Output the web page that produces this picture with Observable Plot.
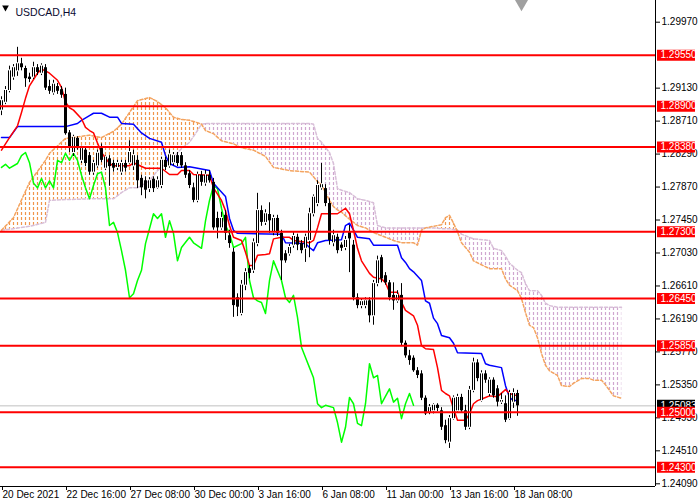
<!DOCTYPE html>
<html>
<head>
<meta charset="utf-8">
<script src="https://cdn.jsdelivr.net/npm/d3@7"></script>
<script src="https://cdn.jsdelivr.net/npm/@observablehq/plot@0.6"></script>
<style>
  body { margin: 0; background: #fff; }
  #chart { width: 700px; height: 500px; }
</style>
</head>
<body>
<div id="chart"></div>
<script>
// USDCAD H4 candles, 20 Dec 2021 -> 18 Jan 2022 (bar index = position)
const open = [1.2885,1.2895,1.2910,1.2927,1.2935,1.2944,1.2938,1.2927,1.2927,1.2939,
  1.2932,1.2939,1.2915,1.2907,1.2915,1.2911,1.2905,1.2856,1.2831,1.2849,
  1.2821,1.2834,1.2827,1.2806,1.2814,1.2836,1.2811,1.2823,1.2817,1.2812,
  1.2806,1.2817,1.2818,1.2814,1.2821,1.2798,1.2795,1.2785,1.2797,1.2786,
  1.2789,1.2821,1.2814,1.2818,1.2827,1.2827,1.2814,1.2804,1.2786,1.2770,
  1.2802,1.2792,1.2802,1.2793,1.2747,1.2735,1.2751,1.2725,1.2704,1.2646,
  1.2626,1.2662,1.2683,1.2681,1.2715,1.2757,1.2742,1.2752,1.2729,1.2747,
  1.2728,1.2702,1.2702,1.2713,1.2723,1.2715,1.2709,1.2719,1.2753,1.2766,
  1.2786,1.2785,1.2766,1.2716,1.2723,1.2713,1.2710,1.2729,1.2713,1.2646,
  1.2636,1.2636,1.2642,1.2623,1.2664,1.2697,1.2674,1.2665,1.2649,1.2642,
  1.2649,1.2588,1.2572,1.2569,1.2553,1.2549,1.2518,1.2500,1.2502,1.2509,
  1.2502,1.2483,1.2462,1.2492,1.2502,1.2519,1.2502,1.2481,1.2528,1.2563,
  1.2515,1.2549,1.2524,1.2541,1.2530,1.2513,1.2511,1.2492,1.2513,1.2524]
const close = [1.2897,1.2910,1.2935,1.2939,1.2944,1.2939,1.2925,1.2924,1.2939,1.2933,
  1.2941,1.2913,1.2909,1.2918,1.2909,1.2904,1.2855,1.2837,1.2850,1.2836,
  1.2836,1.2817,1.2806,1.2817,1.2830,1.2821,1.2825,1.2813,1.2811,1.2817,
  1.2817,1.2811,1.2831,1.2827,1.2795,1.2786,1.2783,1.2795,1.2785,1.2795,
  1.2821,1.2812,1.2828,1.2827,1.2817,1.2814,1.2802,1.2789,1.2770,1.2802,
  1.2793,1.2802,1.2795,1.2735,1.2735,1.2747,1.2728,1.2715,1.2636,1.2634,
  1.2662,1.2678,1.2677,1.2716,1.2757,1.2742,1.2753,1.2744,1.2747,1.2728,
  1.2693,1.2693,1.2710,1.2724,1.2713,1.2706,1.2723,1.2753,1.2774,1.2789,
  1.2790,1.2766,1.2719,1.2725,1.2706,1.2709,1.2719,1.2721,1.2646,1.2636,
  1.2641,1.2642,1.2623,1.2664,1.2693,1.2670,1.2665,1.2646,1.2642,1.2649,
  1.2588,1.2572,1.2566,1.2553,1.2547,1.2518,1.2498,1.2506,1.2509,1.2505,
  1.2481,1.2464,1.2492,1.2518,1.2519,1.2502,1.2481,1.2528,1.2563,1.2543,
  1.2549,1.2541,1.2541,1.2521,1.2513,1.2515,1.2490,1.2524,1.2524,1.25083]
const high = [1.2902,1.2915,1.2941,1.2943,1.2965,1.2951,1.2941,1.2932,1.2946,1.2943,
  1.2944,1.2943,1.2923,1.2923,1.2919,1.2915,1.2913,1.2859,1.2853,1.2851,
  1.2839,1.2837,1.2831,1.2821,1.2834,1.2842,1.2827,1.2827,1.2821,1.2821,
  1.2821,1.2821,1.2846,1.2834,1.2827,1.2802,1.2800,1.2799,1.2800,1.2800,
  1.2825,1.2825,1.2834,1.2831,1.2831,1.2831,1.2818,1.2808,1.2792,1.2806,
  1.2807,1.2808,1.2808,1.2798,1.2755,1.2755,1.2757,1.2732,1.2709,1.2651,
  1.2668,1.2683,1.2687,1.2721,1.2779,1.2763,1.2758,1.2767,1.2751,1.2751,
  1.2732,1.2706,1.2714,1.2729,1.2727,1.2719,1.2727,1.2760,1.2777,1.2795,
  1.2817,1.2790,1.2772,1.2732,1.2727,1.2716,1.2724,1.2738,1.2719,1.2651,
  1.2645,1.2646,1.2646,1.2668,1.2699,1.2700,1.2678,1.2668,1.2665,1.2655,
  1.2664,1.2591,1.2579,1.2572,1.2557,1.2553,1.2521,1.2510,1.2511,1.2511,
  1.2506,1.2490,1.2496,1.2521,1.2523,1.2523,1.2509,1.2533,1.2569,1.2567,
  1.2553,1.2553,1.2544,1.2544,1.2534,1.2524,1.2521,1.2528,1.2530,1.2528]
const low = [1.2878,1.2892,1.2907,1.2923,1.2928,1.2935,1.2914,1.2920,1.2924,1.2929,
  1.2929,1.2910,1.2905,1.2904,1.2905,1.2900,1.2853,1.2831,1.2826,1.2834,
  1.2817,1.2813,1.2802,1.2802,1.2811,1.2818,1.2808,1.2788,1.2806,1.2808,
  1.2802,1.2806,1.2816,1.2808,1.2785,1.2776,1.2772,1.2780,1.2780,1.2784,
  1.2785,1.2808,1.2811,1.2814,1.2813,1.2811,1.2798,1.2785,1.2767,1.2767,
  1.2788,1.2788,1.2792,1.2732,1.2721,1.2732,1.2719,1.2709,1.2621,1.2622,
  1.2623,1.2655,1.2670,1.2677,1.2711,1.2737,1.2738,1.2728,1.2725,1.2724,
  1.2668,1.2690,1.2699,1.2709,1.2706,1.2702,1.2691,1.2697,1.2749,1.2762,
  1.2783,1.2762,1.2713,1.2711,1.2702,1.2705,1.2706,1.2678,1.2642,1.2632,
  1.2632,1.2632,1.2614,1.2611,1.2660,1.2665,1.2662,1.2642,1.2630,1.2639,
  1.2585,1.2569,1.2560,1.2551,1.2543,1.2515,1.2496,1.2497,1.2498,1.2501,
  1.2477,1.2460,1.2454,1.2490,1.2500,1.2500,1.2477,1.2478,1.2525,1.2539,
  1.2513,1.2537,1.2520,1.2518,1.2507,1.2510,1.2487,1.2490,1.2505,1.2495]

// Ichimoku lines: [bar, price]
const tenkan = [[0,1.2834],[2,1.2850],[4,1.2865],[5,1.2882],[6,1.2900],[7,1.2916],[9,1.2932],[10,1.2937],
  [11,1.2935],[12,1.2932],[14,1.2923],[15,1.2914],[16,1.2895],[17,1.2888],[18,1.2885],[20,1.2874],
  [21,1.2863],[22,1.2859],[23,1.2856],[24,1.2843],[25,1.2831],[27,1.2817],[28,1.2814],[32,1.2814],
  [33,1.2818],[36,1.2811],[40,1.2811],[42,1.2803],[44,1.2803],[45,1.2808],[47,1.2808],[48,1.2803],
  [52,1.2802],[53,1.2786],[55,1.2770],[56,1.2757],[57,1.2738],[58,1.2723],[60,1.2719],[61,1.2704],
  [62,1.2687],[63,1.2687],[64,1.2700],[66,1.2701],[67,1.2702],[68,1.2721],[70,1.2723],[72,1.2723],
  [73,1.2719],[77,1.2716],[78,1.2719],[79,1.2735],[80,1.2753],[84,1.2753],[86,1.2760],[87,1.2753],
  [88,1.2732],[89,1.2709],[90,1.2693],[92,1.2677],[93,1.2672],[95,1.2670],[96,1.2665],[97,1.2653],
  [99,1.2653],[100,1.2640],[101,1.2630],[103,1.2623],[104,1.2611],[105,1.2585],[106,1.2581],[108,1.2580],
  [109,1.2557],[110,1.2528],[111,1.2524],[112,1.2521],[113,1.2505],[114,1.2490],[116,1.2490],[117,1.2498],
  [118,1.2511],[119,1.2515],[121,1.2519],[122,1.2521],[124,1.2520],[126,1.2529],[127,1.2524],[129,1.2521]]
const kijun = [[0,1.2850],[2,1.2850],[4,1.2864],[16,1.2864],[19,1.2868],[20,1.2872],[22,1.2878],[23,1.2881],
  [25,1.2881],[27,1.2876],[29,1.2876],[30,1.2868],[33,1.2867],[35,1.2856],[37,1.2849],[40,1.2844],
  [41,1.2827],[42,1.2817],[44,1.2812],[47,1.2813],[52,1.2808],[53,1.2792],[54,1.2786],[56,1.2775],
  [57,1.2747],[58,1.2732],[59,1.2728],[70,1.2727],[71,1.2716],[76,1.2715],[77,1.2710],[78,1.2706],
  [79,1.2716],[81,1.2719],[85,1.2720],[86,1.2738],[87,1.2741],[88,1.2732],[89,1.2723],[92,1.2721],
  [93,1.2713],[99,1.2713],[100,1.2697],[101,1.2691],[102,1.2683],[103,1.2679],[105,1.2668],[106,1.2642],
  [107,1.2639],[108,1.2620],[109,1.2613],[110,1.2598],[112,1.2595],[113,1.2588],[114,1.2576],[120,1.2575],
  [121,1.2562],[122,1.2560],[125,1.2557],[126,1.2534],[127,1.2519],[128,1.2515],[129,1.2515]]
const chikou = [[0,1.2812],[1,1.2816],[2,1.2811],[4,1.2817],[5,1.2827],[6,1.2831],[7,1.2818],[8,1.2792],
  [9,1.2786],[10,1.2798],[11,1.2786],[12,1.2795],[13,1.2786],[14,1.2821],[15,1.2818],[16,1.2830],
  [17,1.2821],[18,1.2830],[19,1.2821],[20,1.2802],[21,1.2786],[22,1.2772],[23,1.2789],[24,1.2804],
  [25,1.2806],[26,1.2786],[27,1.2738],[28,1.2742],[29,1.2729],[30,1.2706],[31,1.2681],[32,1.2646],
  [33,1.2651],[34,1.2668],[35,1.2681],[36,1.2715],[38,1.2753],[39,1.2747],[40,1.2753],[41,1.2723],
  [42,1.2744],[43,1.2728],[44,1.2693],[45,1.2710],[47,1.2723],[48,1.2716],[50,1.2709],[51,1.2744],
  [52,1.2770],[53,1.2789],[54,1.2785],[55,1.2760],[56,1.2738],[57,1.2728],[58,1.2710],[60,1.2715],
  [61,1.2723],[62,1.2668],[63,1.2646],[64,1.2642],[65,1.2640],[66,1.2626],[67,1.2668],[68,1.2693],
  [70,1.2668],[71,1.2646],[72,1.2640],[73,1.2649],[74,1.2621],[75,1.2583],[76,1.2570],[77,1.2557],
  [78,1.2544],[79,1.2511],[80,1.2506],[81,1.2509],[83,1.2506],[84,1.2487],[85,1.2462],[86,1.2481],
  [87,1.2519],[88,1.2511],[89,1.2486],[90,1.2483],[91,1.2511],[92,1.2562],[93,1.2544],[94,1.2547],
  [95,1.2511],[97,1.2530],[98,1.2513],[99,1.2518],[100,1.2492],[101,1.2511],[102,1.2524],[103,1.2509]]
// cloud: [bar, senkou A, senkou B]
const cloud = [[0,1.2732,1.2732],[3,1.2748,1.2734],[7,1.2793,1.2737],[11,1.2821,1.2742],[12,1.2830,1.2770],
  [16,1.2849,1.2771],[22,1.2853,1.2772],[25,1.2850,1.2772],[28,1.2858,1.2772],[30,1.2867,1.2780],
  [32,1.2882,1.2786],[34,1.2897,1.2786],[37,1.2901,1.2795],[39,1.2896,1.2808],[41,1.2888,1.2817],
  [43,1.2876,1.2825],[45,1.2873,1.2836],[47,1.2872,1.2844],[49,1.2869,1.2859],[50,1.2867,1.2867],
  [51,1.2859,1.2868],[53,1.2855,1.2868],[55,1.2846,1.2868],[58,1.2842,1.2868],[60,1.2837,1.2868],
  [63,1.2834,1.2868],[66,1.2826,1.2868],[68,1.2812,1.2868],[72,1.2808,1.2868],[77,1.2806,1.2868],
  [78,1.2800,1.2867],[79,1.2794,1.2849],[80,1.2790,1.2844],[82,1.2770,1.2831],[83,1.2762,1.2817],
  [84,1.2758,1.2785],[85,1.2755,1.2783],[87,1.2746,1.2780],[89,1.2738,1.2772],[91,1.2735,1.2770],
  [93,1.2729,1.2767],[94,1.2727,1.2738],[96,1.2723,1.2735],[98,1.2719,1.2735],[100,1.2716,1.2735],
  [103,1.2716,1.2735],[104,1.2713,1.2735],[105,1.2732,1.2735],[106,1.2735,1.2735],[108,1.2737,1.2735],
  [110,1.2739,1.2734],[111,1.2748,1.2734],[112,1.2751,1.2734],[113,1.2741,1.2733],[114,1.2730,1.2732],
  [115,1.2716,1.2727],[117,1.2704,1.2723],[118,1.2693,1.2721],[122,1.2683,1.2719],[123,1.2683,1.2709],
  [125,1.2683,1.2706],[126,1.2670,1.2699],[127,1.2662,1.2690],[129,1.2655,1.2681],[130,1.2645,1.2678],
  [131,1.2627,1.2664],[132,1.2611,1.2655],[133,1.2608,1.2655],[134,1.2595,1.2655],[135,1.2575,1.2649],
  [136,1.2560,1.2639],[137,1.2553,1.2636],[139,1.2547,1.2634],[140,1.2534,1.2634],[142,1.2533,1.2634],
  [143,1.2537,1.2634],[145,1.2543,1.2634],[147,1.2543,1.2634],[148,1.2541,1.2634],[150,1.2541,1.2634],
  [151,1.2535,1.2634],[152,1.2528,1.2634],[153,1.2521,1.2634],[155,1.2518,1.2634]]

// horizontal levels and axis labels
const levels = [1.2955, 1.2890, 1.2838, 1.2730, 1.2645, 1.2585, 1.2500, 1.2430]
const bid = 1.25083
const priceTicks = [1.2997,1.2913,1.2871,1.2829,1.2787,1.2745,1.2703,1.2661,1.2619,1.2577,1.2535,1.2493,1.2451,1.2409]
const timeTicks = [0, 16, 32, 48, 64, 80, 96, 112, 128]
const timeLabels = ["20 Dec 2021","22 Dec 16:00","27 Dec 08:00","30 Dec 00:00","3 Jan 16:00","6 Jan 08:00","11 Jan 00:00","13 Jan 16:00","18 Jan 08:00"]

const candles = open.map((o, i) => ({i, open: o, close: close[i], high: high[i], low: low[i]}))
const bulls = candles.filter(d => d.close >= d.open)
const xMax = 163.5
const yMin = 1.240556
const f5 = d3.format(".5f")
const boxX1 = 164, boxX2 = 173.5

// one dotted histogram column per bar of the cloud, later clipped to the cloud shape
const cloudBars = d3.range(cloud[0][0], cloud[cloud.length - 1][0] + 1)
const cloudLo = d3.min(cloud, d => Math.min(d[1], d[2]))
const cloudHi = d3.max(cloud, d => Math.max(d[1], d[2]))

let chart = Plot.plot({
  width: 700,
  height: 500,
  marginLeft: 0,
  marginRight: 45,
  marginTop: 0,
  marginBottom: 14,
  style: {fontFamily: "Liberation Sans, Arial, sans-serif", fontSize: "10px", background: "#fff", color: "#000", overflow: "visible"},
  x: {domain: [-0.25, xMax], axis: null, label: null},
  y: {domain: [yMin, 1.302464], axis: null, label: null},
  marks: [
    // cloud outlines used as clip shapes (bullish part, bearish part)
    Plot.areaY(cloud, {x: d => d[0], y1: d => d[2], y2: d => Math.max(d[1], d[2]), fill: "none"}),
    Plot.areaY(cloud, {x: d => d[0], y1: d => d[1], y2: d => Math.max(d[1], d[2]), fill: "none"}),
    Plot.ruleX(cloudBars, {x: d => d, y1: cloudHi, y2: cloudLo, stroke: "#F0944A", strokeWidth: 1.2, strokeDasharray: "3,2"}),
    Plot.ruleX(cloudBars, {x: d => d, y1: cloudHi, y2: cloudLo, stroke: "#CFA6CF", strokeWidth: 1.2, strokeDasharray: "3,2"}),
    Plot.line(cloud, {x: d => d[0], y: d => d[2], stroke: "#D8BFD8", strokeDasharray: "3,2"}),
    Plot.line(cloud, {x: d => d[0], y: d => d[1], stroke: "#F4A460", strokeDasharray: "3,2"}),
    // bid line
    Plot.ruleY([bid], {stroke: "#c0c0c0"}),
    // ichimoku lines
    Plot.line(chikou, {x: d => d[0], y: d => d[1], stroke: "#00ff00"}),
    Plot.line(kijun, {x: d => d[0], y: d => d[1], stroke: "#0000ff"}),
    Plot.line(tenkan, {x: d => d[0], y: d => d[1], stroke: "#ff0000"}),
    // candles: wick, body, hollow inside for bullish bars
    Plot.ruleX(candles, {x: "i", y1: "low", y2: "high", stroke: "#000"}),
    Plot.ruleX(candles, {x: "i", y1: "open", y2: "close", stroke: "#000", strokeWidth: 3}),
    Plot.ruleX(bulls, {x: "i", y1: "open", y2: "close", stroke: "#fff", strokeWidth: 1, insetTop: 1, insetBottom: 1}),
    // levels
    Plot.ruleY(levels, {stroke: "#ff0000", strokeWidth: 2}),
    // axes
    Plot.ruleX([xMax], {stroke: "#000"}),
    Plot.ruleY([yMin], {stroke: "#000"}),
    Plot.axisY(priceTicks, {anchor: "right", tickSize: 4, tickPadding: 2, tickFormat: f5, fontSize: 10, label: null}),
    Plot.axisX(timeTicks, {anchor: "bottom", tickSize: 4, tickPadding: 0, textAnchor: "start", dx: 1,
      tickFormat: d => timeLabels[timeTicks.indexOf(d)], fontSize: 10, label: null}),
    // price labels on the axis
    Plot.ruleY([bid], {x1: boxX1, x2: boxX2, stroke: "#000", strokeWidth: 12}),
    Plot.text([bid], {x: boxX1, y: d => d, text: f5, fill: "#fff", textAnchor: "start", dx: 3, fontSize: 10}),
    Plot.ruleY(levels, {x1: boxX1, x2: boxX2, stroke: "#ff0000", strokeWidth: 11}),
    Plot.text(levels, {x: boxX1, y: d => d, text: f5, fill: "#fff", textAnchor: "start", dx: 3, fontSize: 10}),
    // header
    Plot.dot(["x"], {frameAnchor: "top-left", symbol: "triangle", rotate: 180, r: 2.5, fill: "#000", stroke: null, dx: 5, dy: 7}),
    Plot.text(["USDCAD,H4"], {frameAnchor: "top-left", dx: 15, dy: 8, fill: "#0a0a30", textAnchor: "start", fontSize: 10.5}),
    Plot.dot([open.length], {x: d => d, frameAnchor: "top", symbol: "triangle", rotate: 180, r: 5, fill: "#a0a0a0", stroke: null, dy: 3})
  ]
})

// clip the dotted columns to the two cloud shapes
const svg = d3.select(chart)
const defs = svg.insert("defs", ":first-child")
const areas = svg.selectAll('g[aria-label="area"]').nodes()
const dashes = svg.selectAll('g[aria-label="rule"]').nodes().slice(0, 2)
const clipIds = ["cloudUpClip", "cloudDownClip"]
areas.forEach((g, k) => {
  const d = d3.select(g).select("path").attr("d")
  defs.append("clipPath").attr("id", clipIds[k]).append("path").attr("d", d)
  d3.select(dashes[k]).attr("clip-path", `url(#${clipIds[k]})`)
  d3.select(g).remove()
})

d3.select('#chart').append(() => chart)
</script>
</body>
</html>
